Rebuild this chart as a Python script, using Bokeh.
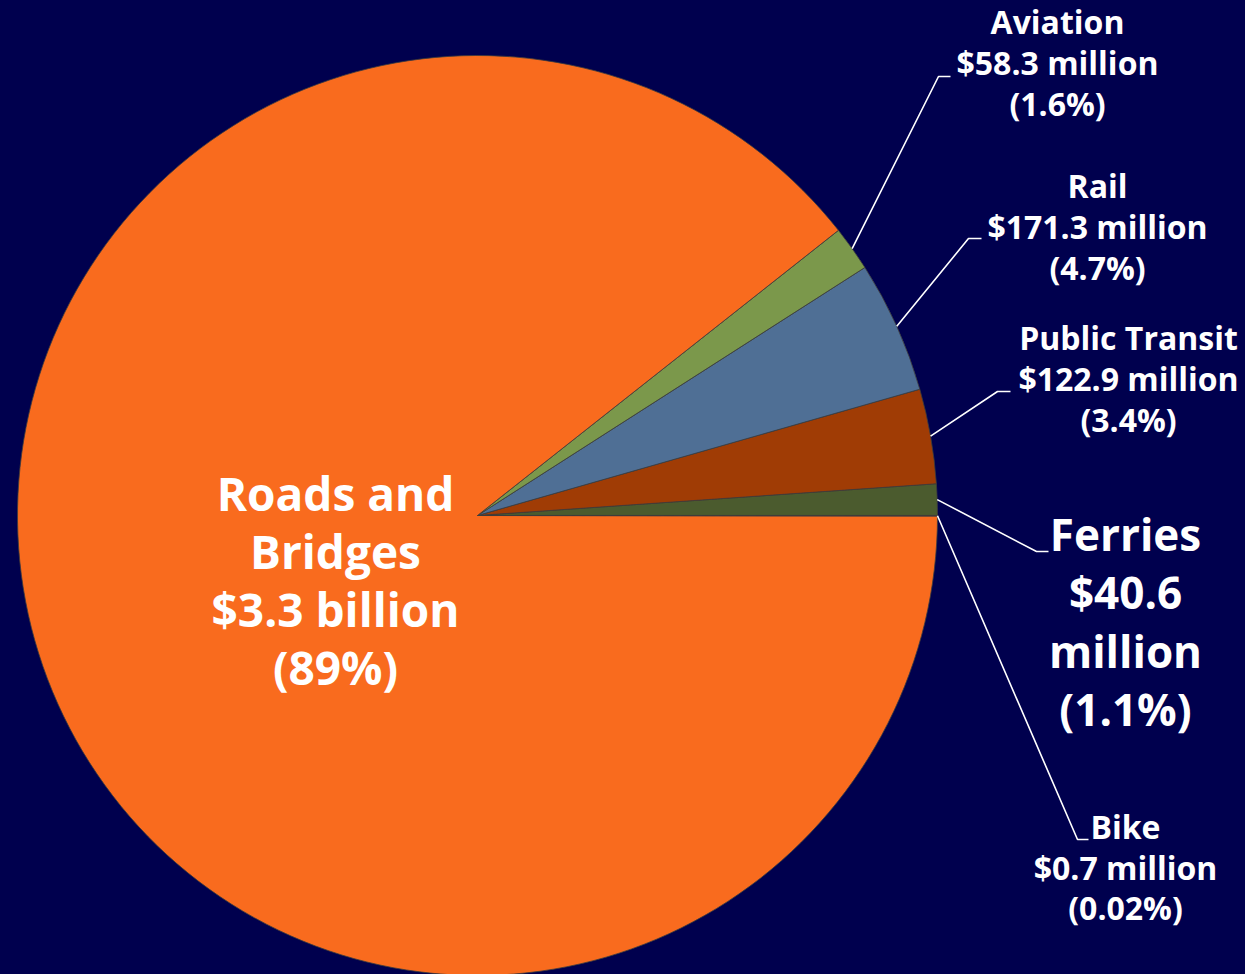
import math
from bokeh.plotting import figure
from bokeh.models import Range1d
from bokeh.core.properties import value
from bokeh.embed import file_html
from bokeh.resources import INLINE

# ---- data ----
categories = ["Ferries", "Public Transit", "Rail", "Aviation", "Roads and Bridges", "Bike"]
values_millions = [40.6, 122.9, 171.3, 58.3, 3300.0, 0.7]
amount_labels = ["$40.6 million", "$122.9 million", "$171.3 million", "$58.3 million", "$3.3 billion", "$0.7 million"]
pct_labels = ["(1.1%)", "(3.4%)", "(4.7%)", "(1.6%)", "(89%)", "(0.02%)"]
colors = ["#4B5B2E", "#A03C05", "#4F6F95", "#7B984B", "#F96B1E", "#5A3A20"]

BG = "#00004E"
FONT = "Open Sans"
W, H = 1245, 974

def fx(px):
    return px

def fy(py):
    return H - py

cx, cy, R = fx(477), fy(515), 460

total = sum(values_millions)
starts, ends = [], []
acc = 0.0
for v in values_millions:
    starts.append(acc / total * 2 * math.pi)
    acc += v
    ends.append(acc / total * 2 * math.pi)
mids = [(s + e) / 2 for s, e in zip(starts, ends)]

p = figure(width=W, height=H, output_backend="svg", toolbar_location=None,
           x_range=Range1d(0, W), y_range=Range1d(0, H), min_border=0)
p.axis.visible = False
p.grid.visible = False
p.outline_line_color = None
p.background_fill_color = BG
p.border_fill_color = BG

p.wedge(x=[cx] * len(categories), y=[cy] * len(categories), radius=R,
        start_angle=starts, end_angle=ends, direction="anticlock",
        fill_color=colors, line_color="#3C3C3C", line_width=0.8)

# label layouts: (lines, center x, first line y, line spacing, font size) in page px
layout = {
    "Aviation": (["Aviation", amount_labels[3], pct_labels[3]], 1057, 21, 41, "32px"),
    "Rail": (["Rail", amount_labels[2], pct_labels[2]], 1097, 185, 41, "32px"),
    "Public Transit": (["Public Transit", amount_labels[1], pct_labels[1]], 1128, 337, 41, "32px"),
    "Ferries": (["Ferries"] + amount_labels[0].split(" ") + [pct_labels[0]], 1125, 533, 58.5, "44px"),
    "Bike": (["Bike", amount_labels[5], pct_labels[5]], 1125, 826, 40.5, "32px"),
    "Roads and Bridges": (["Roads and", "Bridges", amount_labels[4], pct_labels[4]], 335, 492, 58.3, "46px"),
}

for name, (lines, x0, y0, dy, size) in layout.items():
    xs = [fx(x0)] * len(lines)
    ys = [fy(y0 + i * dy) for i in range(len(lines))]
    p.text(x=xs, y=ys, text=lines, text_color="white", text_font=value(FONT),
           text_font_style="bold", text_font_size=size, text_align="center",
           text_baseline="middle")

# leader lines: from slice edge midpoint to elbow then short horizontal
elbows = {
    "Aviation": ((938, 76), (950, 76)),
    "Rail": ((968, 238), (981, 238)),
    "Public Transit": ((997, 391), (1010, 391)),
    "Ferries": ((1036, 551), (1048, 551)),
    "Bike": ((1077, 839), (1088, 839)),
}
for name, (e1, e2) in elbows.items():
    i = categories.index(name)
    sx = cx + R * math.cos(mids[i])
    sy = cy + R * math.sin(mids[i])
    p.line(x=[sx, fx(e1[0]), fx(e2[0])], y=[sy, fy(e1[1]), fy(e2[1])],
           line_color="white", line_width=1.6)

html = file_html(p, INLINE)
html = html.replace("<head>", "<head><style>html,body{background:%s;}</style>" % BG, 1)
open("out.html", "w").write(html)
